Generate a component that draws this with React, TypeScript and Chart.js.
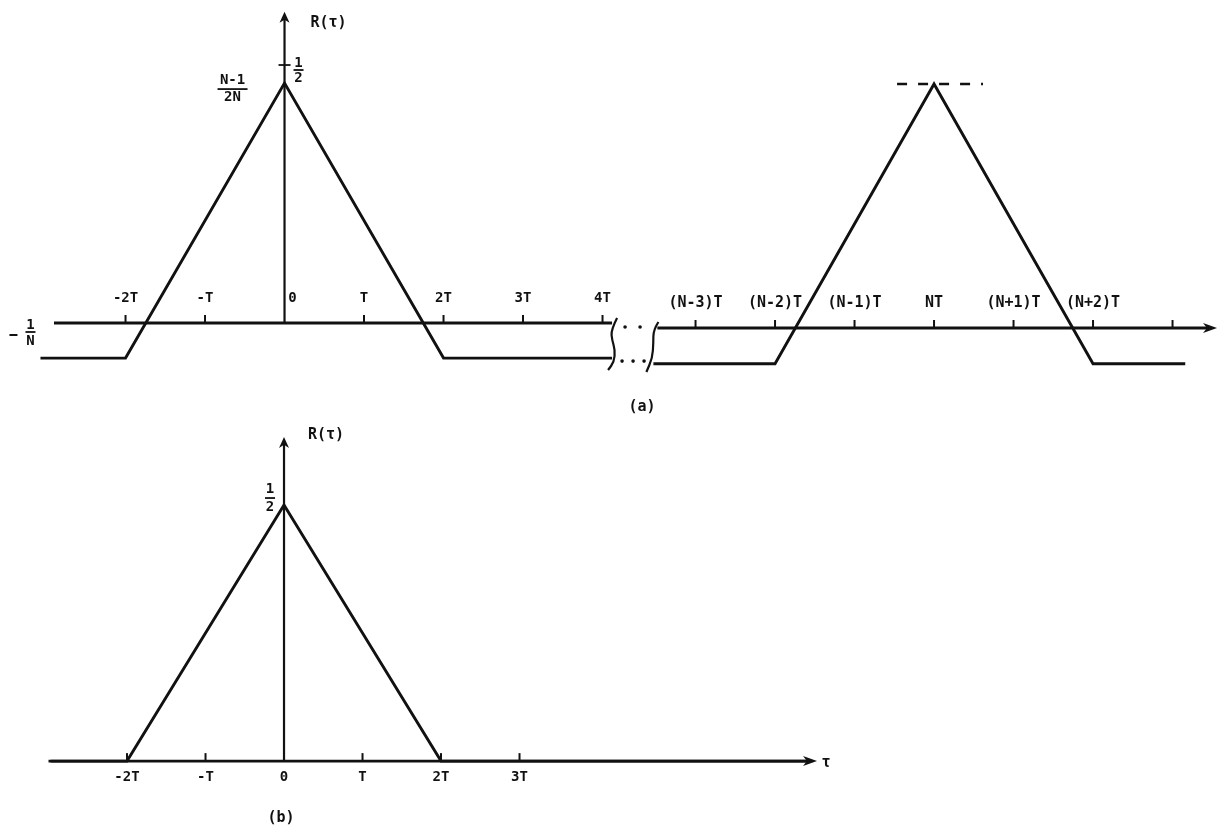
import { useEffect, useRef } from "react";
import { Chart, registerables } from "chart.js";

Chart.register(...registerables);

const INK = "#111111";
const FONT = "bold 14px 'DejaVu Sans Mono', monospace";
const WIDE_FONT = "bold 15px 'DejaVu Sans Mono', monospace";
const FRAC_FONT = "bold 14px 'DejaVu Sans Mono', monospace";

// ---------- (a) periodic sequence: R(τ), τ in units of T ----------
const peakA = 0.465; // (N-1)/2N
const floorA = -0.068; // -1/N
const halfA = 0.5;

// period centred on τ = 0
const tauLeft = [-3.07, -2, 0, 2, 4.12];
const rLeft = [floorA, floorA, peakA, floorA, floorA];

// period centred on τ = NT (offsets from N, units of T)
const tauRightOffset = [-3.53, -2, 0, 2, 3.16];
const rRight = [floorA, floorA, peakA, floorA, floorA];

// τ-axis ticks
const ticksLeft = [-2, -1, 0, 1, 2, 3, 4];
const labelsLeft = ["-2T", "-T", "0", "T", "2T", "3T", "4T"];
const ticksRightOffset = [-3, -2, -1, 0, 1, 2, 3];
const labelsRight = ["(N-3)T", "(N-2)T", "(N-1)T", "NT", "(N+1)T", "(N+2)T", ""];

// broken τ-axis: where NT sits after the break, and the axis extents
const nDrawn = 8.17;
const axisAStart = -2.9;
const axisABreak = 4.12;
const axisAResume = -3.48; // offset from N
const axisAEnd = 3.56; // offset from N
const axisATop = 0.603;
const dashFrom = -0.465; // offsets from N for the peak level guide
const dashTo = 0.616;

// ---------- (b) single pulse ----------
const tauB = [-3.0, -2, 0, 2, 6.7];
const rB = [0, 0, 0.5, 0, 0];
const ticksB = [-2, -1, 0, 1, 2, 3];
const labelsB = ["-2T", "-T", "0", "T", "2T", "3T"];
const axisBStart = -2.97;
const axisBEnd = 6.79;
const axisBTop = 0.633;

type Ctx = CanvasRenderingContext2D;

function seg(ctx: Ctx, x1: number, y1: number, x2: number, y2: number, w = 2) {
  ctx.beginPath();
  ctx.lineWidth = w;
  ctx.moveTo(x1, y1);
  ctx.lineTo(x2, y2);
  ctx.stroke();
}

function arrowHead(ctx: Ctx, tx: number, ty: number, dx: number, dy: number, len: number, half: number) {
  const bx = tx - dx * len;
  const by = ty - dy * len;
  const nx = -dy;
  const ny = dx;
  ctx.beginPath();
  ctx.moveTo(tx, ty);
  ctx.lineTo(bx + nx * half, by + ny * half);
  ctx.lineTo(tx - dx * len * 0.72, ty - dy * len * 0.72);
  ctx.lineTo(bx - nx * half, by - ny * half);
  ctx.closePath();
  ctx.fill();
}

function label(ctx: Ctx, s: string, x: number, y: number, font = FONT) {
  ctx.font = font;
  ctx.textAlign = "center";
  ctx.textBaseline = "middle";
  ctx.fillText(s, x, y);
}

function fraction(ctx: Ctx, num: string, den: string, cx: number, numY: number, barY: number, denY: number, barHalf: number) {
  label(ctx, num, cx, numY, FRAC_FONT);
  seg(ctx, cx - barHalf, barY, cx + barHalf, barY, 1.8);
  label(ctx, den, cx, denY, FRAC_FONT);
}

function smoothPath(ctx: Ctx, pts: number[][], ox: number, oy: number) {
  ctx.beginPath();
  ctx.lineWidth = 2.2;
  ctx.moveTo(ox + pts[0][0], oy + pts[0][1]);
  for (let i = 1; i < pts.length - 1; i++) {
    const mx = (pts[i][0] + pts[i + 1][0]) / 2;
    const my = (pts[i][1] + pts[i + 1][1]) / 2;
    ctx.quadraticCurveTo(ox + pts[i][0], oy + pts[i][1], ox + mx, oy + my);
  }
  const last = pts[pts.length - 1];
  ctx.lineTo(ox + last[0], oy + last[1]);
  ctx.stroke();
}

function dot(ctx: Ctx, x: number, y: number) {
  ctx.beginPath();
  ctx.arc(x, y, 1.8, 0, Math.PI * 2);
  ctx.fill();
}

const axesA = {
  id: "axesA",
  afterDatasetsDraw(chart: any) {
    const ctx: Ctx = chart.ctx;
    const x = chart.scales.x;
    const yL = chart.scales.yL;
    const yR = chart.scales.yR;
    const px = (v: number) => x.getPixelForValue(v);
    ctx.save();
    ctx.strokeStyle = INK;
    ctx.fillStyle = INK;
    ctx.lineCap = "butt";

    const y0 = yL.getPixelForValue(0);
    const y0r = yR.getPixelForValue(0);
    const x0 = px(0);

    // τ-axis, left of the break
    seg(ctx, px(axisAStart), y0, px(axisABreak), y0, 2.8);
    ticksLeft.forEach((t, i) => {
      if (t !== 0) seg(ctx, px(t), y0, px(t), y0 - 8, 2);
      label(ctx, labelsLeft[i], px(t) + (t === 0 ? 8 : 0), y0 - 25);
    });

    // τ-axis, right of the break
    const xEnd = px(nDrawn + axisAEnd);
    seg(ctx, px(nDrawn + axisAResume), y0r, xEnd - 8, y0r, 2.8);
    arrowHead(ctx, xEnd, y0r, 1, 0, 14, 5);
    ticksRightOffset.forEach((k, i) => {
      const tx = px(nDrawn + k);
      seg(ctx, tx, y0r, tx, y0r - 8, 2);
      if (labelsRight[i]) label(ctx, labelsRight[i], tx, y0r - 25, WIDE_FONT);
    });

    // axis break: wavy marks and dots
    const bx = px(axisABreak);
    const yF = yL.getPixelForValue(floorA);
    smoothPath(ctx, [[5, -5], [-1, 7], [0, 17], [3, 27], [2, 39], [-4, 47]], bx, y0);
    const rx = px(nDrawn + axisAResume);
    smoothPath(ctx, [[1, -6], [-4, 2], [-4, 15], [-5, 30], [-11, 44]], rx, y0r);
    dot(ctx, bx + 13, y0 + 4);
    dot(ctx, bx + 28, y0 + 4);
    dot(ctx, bx + 10, yF + 3);
    dot(ctx, bx + 21, yF + 3);
    dot(ctx, bx + 32, yF + 3);

    // R(τ) axis
    const yTop = yL.getPixelForValue(axisATop);
    seg(ctx, x0, y0, x0, yTop + 6, 2.2);
    arrowHead(ctx, x0, yTop, 0, -1, 11, 5);
    label(ctx, "R(τ)", x0 + 44, yTop + 11, WIDE_FONT);

    // ½ mark
    const yHalf = yL.getPixelForValue(halfA);
    seg(ctx, x0 - 6, yHalf, x0 + 6, yHalf, 1.8);
    fraction(ctx, "1", "2", x0 + 14, yHalf - 2, yHalf + 5, yHalf + 13, 5);

    // (N-1)/2N beside the peak
    const yPk = yL.getPixelForValue(peakA);
    fraction(ctx, "N-1", "2N", x0 - 52, yPk - 3, yPk + 6, yPk + 14, 15);

    // -1/N at the floor level
    const xf = px(tauLeft[0]);
    seg(ctx, xf - 31, y0 + 12, xf - 23, y0 + 12, 2);
    fraction(ctx, "1", "N", xf - 10, y0 + 2, y0 + 9, y0 + 18, 5);

    label(ctx, "(a)", bx + 30, y0 + 84, WIDE_FONT);
    ctx.restore();
  },
};

const axesB = {
  id: "axesB",
  afterDatasetsDraw(chart: any) {
    const ctx: Ctx = chart.ctx;
    const x = chart.scales.x;
    const y = chart.scales.y;
    const px = (v: number) => x.getPixelForValue(v);
    ctx.save();
    ctx.strokeStyle = INK;
    ctx.fillStyle = INK;

    const y0 = y.getPixelForValue(0);
    const x0 = px(0);
    const xEnd = px(axisBEnd);
    seg(ctx, px(axisBStart), y0, xEnd - 8, y0, 2.8);
    arrowHead(ctx, xEnd, y0, 1, 0, 14, 5);
    label(ctx, "τ", xEnd + 9, y0 + 2, WIDE_FONT);

    ticksB.forEach((t, i) => {
      if (t !== 0) seg(ctx, px(t), y0, px(t), y0 - 8, 2);
      label(ctx, labelsB[i], px(t), y0 + 16);
    });

    const yTop = y.getPixelForValue(axisBTop);
    seg(ctx, x0, y0, x0, yTop + 6, 2.2);
    arrowHead(ctx, x0, yTop, 0, -1, 11, 5);
    label(ctx, "R(τ)", x0 + 42, yTop - 2, WIDE_FONT);

    const yPk = y.getPixelForValue(0.5);
    fraction(ctx, "1", "2", x0 - 14, yPk - 16, yPk - 7, yPk + 2, 5);

    label(ctx, "(b)", x0 - 3, y0 + 57, WIDE_FONT);
    ctx.restore();
  },
};

const lineStyle = {
  borderColor: INK,
  borderWidth: 2.9,
  pointRadius: 0,
  tension: 0,
  fill: false,
  clip: false as const,
  borderJoinStyle: "miter" as const,
};

function configA(): any {
  return {
    type: "line",
    data: {
      datasets: [
        { ...lineStyle, yAxisID: "yL", data: tauLeft.map((t, i) => ({ x: t, y: rLeft[i] })) },
        { ...lineStyle, yAxisID: "yR", data: tauRightOffset.map((t, i) => ({ x: nDrawn + t, y: rRight[i] })) },
        {
          ...lineStyle,
          yAxisID: "yR",
          borderWidth: 2.4,
          borderDash: [10, 11],
          data: [
            { x: nDrawn + dashFrom, y: peakA },
            { x: nDrawn + dashTo, y: peakA },
          ],
        },
      ],
    },
    options: {
      responsive: false,
      animation: false,
      devicePixelRatio: 1,
      events: [],
      layout: { padding: 0 },
      plugins: { legend: { display: false }, tooltip: { enabled: false } },
      scales: {
        x: { type: "linear", display: false, min: -3.579, max: 11.83 },
        yL: { type: "linear", display: false, min: -0.188, max: 0.626 },
        yR: { type: "linear", display: false, min: -0.1753, max: 0.6251 },
      },
    },
    plugins: [axesA],
  };
}

function configB(): any {
  return {
    type: "line",
    data: {
      datasets: [{ ...lineStyle, data: tauB.map((t, i) => ({ x: t, y: rB[i] })) }],
    },
    options: {
      responsive: false,
      animation: false,
      devicePixelRatio: 1,
      events: [],
      layout: { padding: 0 },
      plugins: { legend: { display: false }, tooltip: { enabled: false } },
      scales: {
        x: { type: "linear", display: false, min: -3.618, max: 11.987 },
        y: { type: "linear", display: false, min: -0.154, max: 0.666 },
      },
    },
    plugins: [axesB],
  };
}

function Panel({ make, top }: { make: () => any; top: number }) {
  const ref = useRef<HTMLCanvasElement>(null);
  useEffect(() => {
    const chart = new Chart(ref.current as HTMLCanvasElement, make());
    return () => chart.destroy();
  }, [make]);
  return (
    <canvas
      ref={ref}
      width={1225}
      height={420}
      style={{ position: "absolute", left: 0, top, width: 1225, height: 420 }}
    />
  );
}

export default function App() {
  return (
    <div style={{ position: "absolute", left: 0, top: 0, width: 1225, height: 840, background: "#fff" }}>
      <Panel make={configA} top={0} />
      <Panel make={configB} top={420} />
    </div>
  );
}
